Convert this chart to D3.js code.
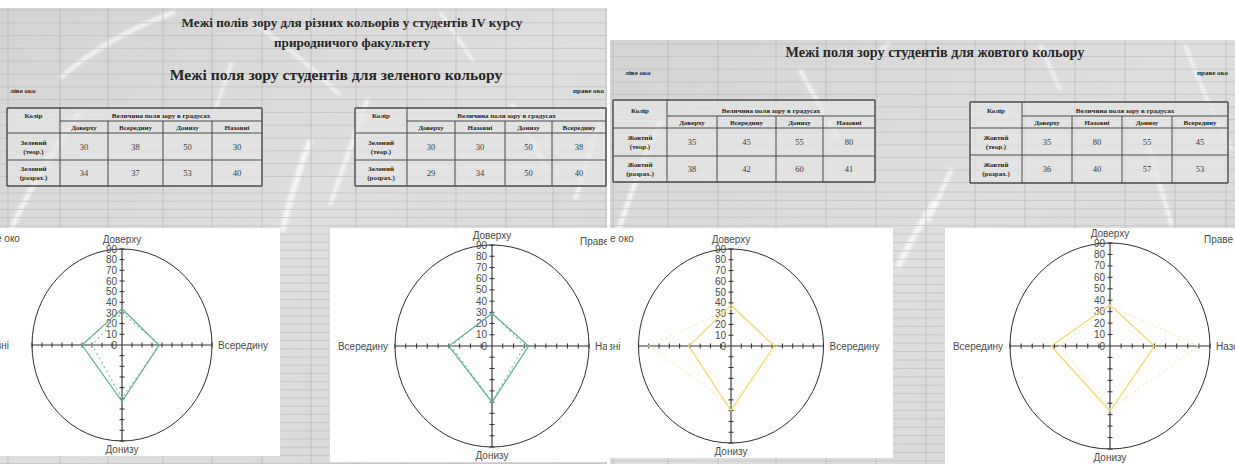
<!DOCTYPE html>
<html><head><meta charset="utf-8">
<script src="https://cdn.jsdelivr.net/npm/d3@7"></script>
<style>
html,body{margin:0;padding:0;background:#fff;}
svg{display:block;}
</style></head><body>
<svg id="c" width="1235" height="464"></svg>
<script>
// Field-of-vision directions, in table order (clockwise from the top of each chart)
const dirsLeftEye = ["Доверху", "Всередину", "Донизу", "Назовні"];
const dirsRightEye = ["Доверху", "Назовні", "Донизу", "Всередину"];
const rowKinds = ["(теор.)", "(розрах.)"];

// Green: theoretical and calculated limits, degrees
const greenTheorLeft = [30, 38, 50, 30];
const greenCalcLeft = [34, 37, 53, 40];
const greenTheorRight = [30, 30, 50, 38];
const greenCalcRight = [29, 34, 50, 40];

// Yellow: theoretical and calculated limits, degrees
const yellowTheorLeft = [35, 45, 55, 80];
const yellowCalcLeft = [38, 42, 60, 41];
const yellowTheorRight = [35, 80, 55, 45];
const yellowCalcRight = [36, 40, 57, 53];

const radialTicks = [0, 10, 20, 30, 40, 50, 60, 70, 80, 90];

const svg = d3.select("#c");
const defs = svg.append("defs");
defs.append("filter").attr("id", "soft").attr("x", "-20%").attr("y", "-20%").attr("width", "140%").attr("height", "140%")
  .append("feGaussianBlur").attr("stdDeviation", 1.6);

const serif = "'Liberation Serif','Times New Roman',serif";
const sans = "'Liberation Sans',Arial,sans-serif";

// ---------- worksheet panels ----------
function panel(id, x, y, w, h, colLines, rowLines, streaks) {
  defs.append("clipPath").attr("id", id).append("rect").attr("x", x).attr("y", y).attr("width", w).attr("height", h);
  const g = svg.append("g").attr("clip-path", `url(#${id})`);
  const grad = defs.append("linearGradient").attr("id", id + "g").attr("x1", 0).attr("y1", 0).attr("x2", 1).attr("y2", 1);
  grad.append("stop").attr("offset", 0).attr("stop-color", "#d4d4d4");
  grad.append("stop").attr("offset", 0.5).attr("stop-color", "#dedede");
  grad.append("stop").attr("offset", 1).attr("stop-color", "#d6d6d6");
  g.append("rect").attr("x", x).attr("y", y).attr("width", w).attr("height", h).attr("fill", `url(#${id}g)`);
  g.append("g").selectAll("path").data(streaks).join("path")
    .attr("d", d => d[0]).attr("fill", "none").attr("stroke", "#fff")
    .attr("stroke-width", d => d[1]).attr("stroke-opacity", 0.75).attr("filter", "url(#soft)");
  g.append("g").selectAll("line").data(colLines).join("line")
    .attr("x1", d => d).attr("x2", d => d).attr("y1", y).attr("y2", y + h)
    .attr("stroke", "#b9b9b9").attr("stroke-width", 0.8);
  g.append("g").selectAll("line").data(rowLines).join("line")
    .attr("x1", x).attr("x2", x + w).attr("y1", d => d).attr("y2", d => d)
    .attr("stroke", "#c2c2c2").attr("stroke-width", 0.8);
  return g;
}

function rowsFrom(list) { return list; }
const leftRows = d3.range(10, 186, 12.8).concat(d3.range(193, 464, 8.2));
const rightRows = d3.range(44, 186, 12.6).concat(d3.range(192, 464, 8.4));

const leftPanel = panel("pl", 0, 8, 607, 456,
  [8, 60, 108, 163, 212, 262, 311, 356, 407, 456, 506, 553, 606], leftRows,
  [["M 10 232 Q 35 175 80 112", 5], ["M 60 78 Q 110 35 175 12", 4], ["M 282 232 Q 292 190 310 140", 6],
   ["M 330 205 L 368 98", 4], ["M 250 20 Q 300 55 340 95", 3], ["M 512 104 L 548 170", 4],
   ["M 440 12 L 474 62", 3], ["M 215 110 L 232 62", 3], ["M 575 200 L 600 120", 4]]);

const rightPanel = panel("pr", 610, 40, 625, 424,
  [613, 668, 718, 776, 826, 876, 926, 975, 1025, 1075, 1125, 1175, 1226], rightRows,
  [["M 618 232 Q 640 165 662 118", 5], ["M 800 70 L 838 138", 4], ["M 898 268 Q 910 240 936 200", 6],
   ["M 1145 135 L 1172 226", 4], ["M 928 222 L 952 168", 4], ["M 1185 44 Q 1205 100 1232 150", 3],
   ["M 870 60 L 890 42", 3], ["M 1040 44 L 1060 90", 3]]);

// ---------- headings ----------
function txt(g, s, x, y, size, opts = {}) {
  return g.append("text").attr("x", x).attr("y", y).text(s)
    .attr("font-family", opts.family || serif).attr("font-size", size)
    .attr("font-weight", opts.weight || "bold").attr("fill", opts.fill || "#262626")
    .attr("text-anchor", opts.anchor || "middle");
}
txt(leftPanel, "Межі полів зору для різних кольорів у студентів IV курсу", 352, 27, 13.2);
txt(leftPanel, "природничого факультету", 352, 47, 13.2);
txt(leftPanel, "Межі поля зору студентів для зеленого кольору", 336, 80, 15.6);
txt(leftPanel, "ліве око", 10, 93, 7, { anchor: "start" });
txt(leftPanel, "праве око", 604, 93, 7, { anchor: "end" });

txt(rightPanel, "Межі поля зору студентів для жовтого кольору", 935, 57, 14.2);
txt(rightPanel, "ліве око", 625, 75, 7, { anchor: "start" });
txt(rightPanel, "праве око", 1228, 75, 7, { anchor: "end" });

// ---------- tables ----------
function table(g, cols, rows, dirs, theor, calc, colourName) {
  const t = g.append("g");
  t.append("rect").attr("x", cols[0]).attr("y", rows[0]).attr("width", cols[5] - cols[0]).attr("height", rows[4] - rows[0])
    .attr("fill", "#e6e6e6").attr("fill-opacity", 0.7);
  const ln = (x1, y1, x2, y2, w) => t.append("line").attr("x1", x1).attr("y1", y1).attr("x2", x2).attr("y2", y2)
    .attr("stroke", "#4a4a4a").attr("stroke-width", w);
  rows.forEach((y, i) => ln(i === 1 ? cols[1] : cols[0], y, cols[5], y, i === 0 || i === 4 ? 1.4 : 1));
  cols.forEach((x, i) => ln(x, i >= 2 && i <= 4 ? rows[1] : rows[0], x, rows[4], i === 0 || i === 5 ? 1.4 : 1));
  txt(t, "Колір", (cols[0] + cols[1]) / 2, rows[1] - 3, 7);
  txt(t, "Величина поля зору в градусах", (cols[1] + cols[5]) / 2, rows[1] - 3, 7);
  dirs.forEach((d, i) => txt(t, d, (cols[i + 1] + cols[i + 2]) / 2, rows[2] - 3, 7));
  [theor, calc].forEach((vals, r) => {
    const yTop = rows[r + 2], yBot = rows[r + 3], ym = (yTop + yBot) / 2;
    txt(t, colourName, (cols[0] + cols[1]) / 2, ym - 2, 7);
    txt(t, rowKinds[r], (cols[0] + cols[1]) / 2, ym + 7, 7);
    vals.forEach((v, i) => txt(t, v, (cols[i + 1] + cols[i + 2]) / 2, ym + 3, 8.5, { weight: "normal", fill: "#3a3a3a" }));
  });
}
table(leftPanel, [7, 60, 108, 163, 212, 262], [108, 121, 133, 160, 186], dirsLeftEye, greenTheorLeft, greenCalcLeft, "Зелений");
table(leftPanel, [355, 407, 455, 505, 552, 606], [108, 121, 133, 160, 186], dirsRightEye, greenTheorRight, greenCalcRight, "Зелений");
table(rightPanel, [613, 667, 717, 776, 823, 875], [100, 116, 128, 156, 182], dirsLeftEye, yellowTheorLeft, yellowCalcLeft, "Жовтий");
table(rightPanel, [970, 1022, 1072, 1122, 1172, 1228], [102, 116, 128, 155, 183], dirsRightEye, yellowTheorRight, yellowCalcRight, "Жовтий");

// ---------- radar charts ----------
function radar(g, c) {
  const ch = g.append("g");
  ch.append("rect").attr("x", c.box[0]).attr("y", c.box[1]).attr("width", c.box[2]).attr("height", c.box[3]).attr("fill", "#fff");
  const r = d3.scaleLinear().domain([0, 90]).range([0, 1]);
  const ang = i => i * Math.PI / 2;
  const pt = (v, i) => [c.cx + r(v) * c.rx * Math.sin(ang(i)), c.cy - r(v) * c.ry * Math.cos(ang(i))];

  ch.append("ellipse").attr("cx", c.cx).attr("cy", c.cy).attr("rx", c.rx).attr("ry", c.ry)
    .attr("fill", "none").attr("stroke", "#2e2e2e").attr("stroke-width", 1);

  // spokes with crossing tick marks
  c.dirs.forEach((d, i) => {
    const end = pt(90, i);
    ch.append("line").attr("x1", c.cx).attr("y1", c.cy).attr("x2", end[0]).attr("y2", end[1])
      .attr("stroke", "#2e2e2e").attr("stroke-width", 1.1);
    radialTicks.slice(1).forEach(v => {
      const p = pt(v, i);
      const horiz = i % 2 === 0;
      ch.append("line")
        .attr("x1", horiz ? p[0] - 2.5 : p[0]).attr("x2", horiz ? p[0] + 2.5 : p[0])
        .attr("y1", horiz ? p[1] : p[1] - 2.5).attr("y2", horiz ? p[1] : p[1] + 2.5)
        .attr("stroke", "#2e2e2e").attr("stroke-width", 1);
    });
  });

  // value labels along the upper spoke
  ch.append("g").selectAll("text").data(radialTicks).join("text")
    .attr("x", c.cx - 5).attr("y", v => pt(v, 0)[1] + 3.5).text(v => v)
    .attr("font-family", sans).attr("font-size", 10).attr("fill", "#4a4a4a").attr("text-anchor", "end");

  // category labels
  const lab = (s, x, y, anchor) => ch.append("text").attr("x", x).attr("y", y).text(s)
    .attr("font-family", sans).attr("font-size", 10).attr("fill", "#4a4a4a").attr("text-anchor", anchor);
  lab(c.dirs[0], c.cx, c.cy - c.ry - 6, "middle");
  lab(c.dirs[1], c.cx + c.rx + 6, c.cy + 3.5, "start");
  lab(c.dirs[2], c.cx, c.cy + c.ry + 12, "middle");
  lab(c.dirs[3], c.cx - c.rx - c.leftGap, c.cy + 3.5, "end");
  lab(c.eye[0], c.eye[1], c.eye[2], c.eye[3]);

  const line = d3.line().curve(d3.curveLinearClosed);
  ch.append("path").attr("d", line(c.theor.map(pt))).attr("fill", "none")
    .attr("stroke", c.theorColour).attr("stroke-width", 1.3).attr("stroke-dasharray", "2,3");
  ch.append("path").attr("d", line(c.calc.map(pt))).attr("fill", "none")
    .attr("stroke", c.calcColour).attr("stroke-width", 1.2);
}

radar(leftPanel, { cx: 122, cy: 345, rx: 90, ry: 96, box: [0, 228, 280, 228], leftGap: 23,
  dirs: dirsLeftEye, theor: greenTheorLeft, calc: greenCalcLeft,
  theorColour: "#8fc9b6", calcColour: "#5fae92", eye: ["Ліве око", -18, 242, "start"] });
radar(leftPanel, { cx: 492, cy: 346, rx: 97, ry: 101, box: [330, 228, 277, 234], leftGap: 7,
  dirs: dirsRightEye, theor: greenTheorRight, calc: greenCalcRight,
  theorColour: "#8fc9b6", calcColour: "#5fae92", eye: ["Праве око", 580, 245, "start"] });
radar(rightPanel, { cx: 731, cy: 346, rx: 92.5, ry: 97, box: [610, 228, 283, 230], leftGap: 18,
  dirs: dirsLeftEye, theor: yellowTheorLeft, calc: yellowCalcLeft,
  theorColour: "#f7ebbb", calcColour: "#f1d670", eye: ["Ліве око", 596, 242, "start"] });
radar(rightPanel, { cx: 1110, cy: 346, rx: 100, ry: 103, box: [945, 228, 290, 236], leftGap: 7,
  dirs: dirsRightEye, theor: yellowTheorRight, calc: yellowCalcRight,
  theorColour: "#f7ebbb", calcColour: "#f1d670", eye: ["Праве око", 1204, 243, "start"] });
</script>
</body></html>
